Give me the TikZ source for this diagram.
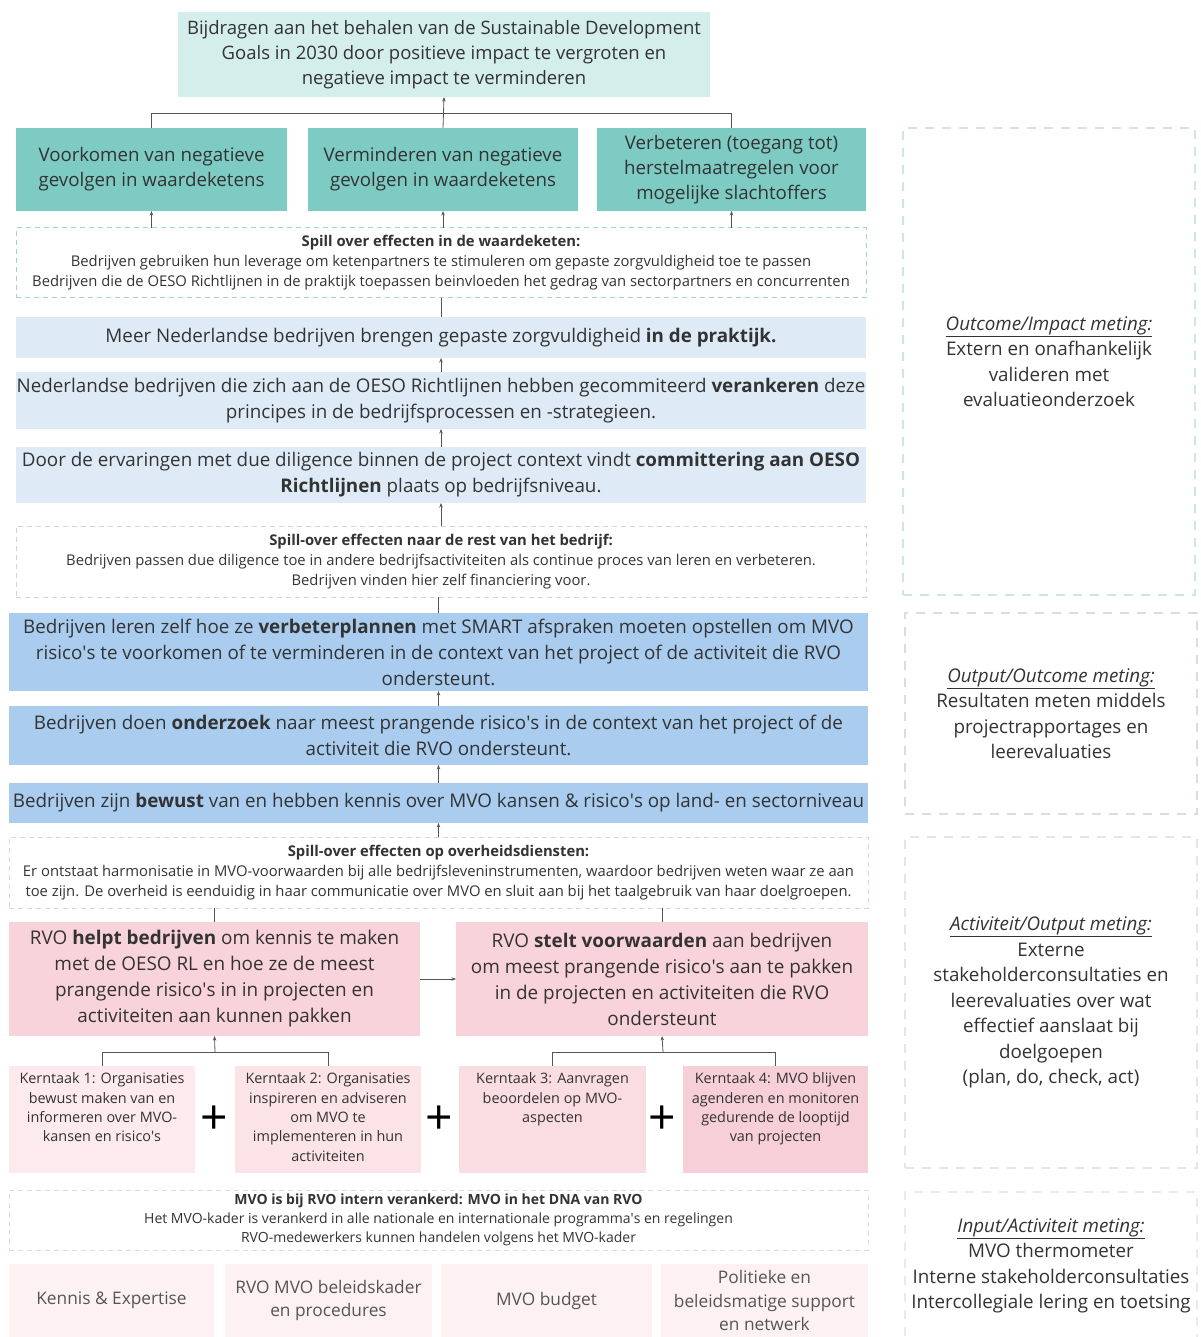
\documentclass[tikz,border=0pt]{standalone}
\usepackage{fontspec}
\setmainfont{Open Sans}
\usetikzlibrary{arrows.meta}
\definecolor{txt}{HTML}{333333}
\definecolor{txtg}{HTML}{555555}
\definecolor{cTop}{HTML}{D4EEEB}
\definecolor{cTeal}{HTML}{7ECBC4}
\definecolor{cLB}{HTML}{DEEBF7}
\definecolor{cMB}{HTML}{A9CCEF}
\definecolor{cPink}{HTML}{F9D3DC}
\definecolor{cKa}{HTML}{FCEAEE}
\definecolor{cKb}{HTML}{FBE3E8}
\definecolor{cKc}{HTML}{FADCE3}
\definecolor{cKd}{HTML}{F7CFD9}
\definecolor{cBase}{HTML}{FDF1F3}
\definecolor{dT}{HTML}{9ED3CF}
\definecolor{dB}{HTML}{C8D6E4}
\definecolor{dP}{HTML}{EBCFD5}
\definecolor{dQ}{HTML}{E6D6DA}
\definecolor{rA}{HTML}{CDE5E3}
\definecolor{rB}{HTML}{D8DDE0}
\definecolor{rC}{HTML}{E3E6E6}
\definecolor{rD}{HTML}{E9EAEA}
\definecolor{lnc}{HTML}{555555}
\newcommand\fsz[2]{\fontsize{#1}{#2}\selectfont}
\newcommand\aq{\textquotesingle}
\newcommand\bx[7]{\node[#6, minimum width={(#4-#2)*1pt}, minimum height={(#5-#3)*1pt}] (#1) at ({(#2+#4)/2},{(#3+#5)/2}) {#7};}
\tikzset{
  box/.style={inner sep=0pt, outer sep=0pt, align=center, text=txt},
  topbox/.style={box, fill=cTop, font=\fsz{18.5}{25}},
  tealbox/.style={box, fill=cTeal, font=\fsz{18.7}{25}},
  lbbox/.style={box, fill=cLB, font=\fsz{18.8}{26}},
  mbbox/.style={box, fill=cMB, font=\fsz{18.8}{26}},
  pinkbox/.style={box, fill=cPink, font=\fsz{18.9}{26}},
  ktbox/.style={box},
  kttext/.style={inner sep=0pt, align=center, text=txt, font=\fsz{14.4}{19.4}, anchor=north},
  basebox/.style={box, fill=cBase, text=txtg, font=\fsz{17.3}{23.5}},
  dashbox/.style={box, line width=1pt, dash pattern=on 5pt off 4pt},
  sidebox/.style={box, line width=1.6pt, dash pattern=on 9pt off 8pt, font=\fsz{18.8}{25.5}},
  conn/.style={draw=lnc, line width=0.8pt},
  arr/.style={conn, -{Stealth[length=4.5pt,width=3.5pt]}},
  plus/.style={inner sep=0pt, text=black, font=\fsz{48}{48}}
}
\begin{document}
\begin{tikzpicture}[x=1pt,y=-1pt]
\useasboundingbox[fill=white] (0,0) rectangle (1200,1337);
% top
\bx{top}{178}{12}{710}{97}{topbox}{Bijdragen aan het behalen van de Sustainable Development\\Goals in 2030 door positieve impact te vergroten en\\negatieve impact te verminderen}
\bx{t1}{16}{128}{287}{211}{tealbox}{Voorkomen van negatieve\\gevolgen in waardeketens}
\bx{t2}{308}{128}{578}{211}{tealbox}{Verminderen van negatieve\\gevolgen in waardeketens}
\bx{t3}{597}{128}{866}{211}{tealbox}{Verbeteren (toegang tot)\\herstelmaatregelen voor\\mogelijke slachtoffers}
\bx{d1}{16}{228}{866}{298}{dashbox, draw=dT, font=\fsz{14.8}{20}}{\textbf{Spill over effecten in de waardeketen:}\\Bedrijven gebruiken hun leverage om ketenpartners te stimuleren om gepaste zorgvuldigheid toe te passen\\Bedrijven die de OESO Richtlijnen in de praktijk toepassen beinvloeden het gedrag van sectorpartners en concurrenten}
\bx{b1}{16}{317}{866}{358}{lbbox}{Meer Nederlandse bedrijven brengen gepaste zorgvuldigheid \textbf{in de praktijk.}}
\bx{b2}{16}{372}{866}{429}{lbbox}{Nederlandse bedrijven die zich aan de OESO Richtlijnen hebben gecommiteerd \textbf{verankeren} deze\\principes in de bedrijfsprocessen en -strategieen.}
\bx{b3}{16}{447}{866}{503}{lbbox}{Door de ervaringen met due diligence binnen de project context vindt \textbf{committering aan OESO}\\\textbf{Richtlijnen} plaats op bedrijfsniveau.}
\bx{d2}{16}{526}{866}{597}{dashbox, draw=dB, font=\fsz{14.8}{20}}{\textbf{Spill-over effecten naar de rest van het bedrijf:}\\Bedrijven passen due diligence toe in andere bedrijfsactiviteiten als continue proces van leren en verbeteren.\\Bedrijven vinden hier zelf financiering voor.}
\bx{c1}{9}{613}{868}{691}{mbbox}{Bedrijven leren zelf hoe ze \textbf{verbeterplannen} met SMART afspraken moeten opstellen om MVO\\risico\aq s te voorkomen of te verminderen in de context van het project of de activiteit die RVO\\ondersteunt.}
\bx{c2}{9}{706}{868}{765}{mbbox}{Bedrijven doen \textbf{onderzoek} naar meest prangende risico\aq s in de context van het project of de\\activiteit die RVO ondersteunt.}
\bx{c3}{9}{783}{868}{823}{mbbox}{Bedrijven zijn \textbf{bewust} van en hebben kennis over MVO kansen \& risico\aq s op land- en sectorniveau}
\bx{d3}{9}{837}{868}{908}{dashbox, draw=dP, font=\fsz{14.8}{20}}{\textbf{Spill-over effecten op overheidsdiensten:}\\Er ontstaat harmonisatie in MVO-voorwaarden bij alle bedrijfsleveninstrumenten, waardoor bedrijven weten waar ze aan\\toe zijn. De overheid is eenduidig in haar communicatie over MVO en sluit aan bij het taalgebruik van haar doelgroepen.}
\bx{p1}{9}{922}{420}{1036}{pinkbox}{RVO \textbf{helpt bedrijven} om kennis te maken\\met de OESO RL en hoe ze de meest\\prangende risico\aq s in in projecten en\\activiteiten aan kunnen pakken}
\bx{p2}{456}{922}{868}{1036}{pinkbox}{RVO \textbf{stelt voorwaarden} aan bedrijven\\om meest prangende risico\aq s aan te pakken\\in de projecten en activiteiten die RVO\\ondersteunt}
\bx{k1}{9}{1066}{195}{1173}{ktbox, fill=cKa}{}
\bx{k2}{235}{1066}{421}{1173}{ktbox, fill=cKb}{}
\bx{k3}{459}{1066}{646}{1173}{ktbox, fill=cKc}{}
\bx{k4}{683}{1066}{868}{1173}{ktbox, fill=cKd}{}
\node[kttext] (k1t) at (102,1072.5) {Kerntaak 1: Organisaties\\bewust maken van en\\informeren over MVO-\\kansen en risico\aq s};
\node[kttext] (k2t) at (328,1072.5) {Kerntaak 2: Organisaties\\inspireren en adviseren\\om MVO te\\implementeren in hun\\activiteiten};
\node[kttext] (k3t) at (552.5,1072.5) {Kerntaak 3: Aanvragen\\beoordelen op MVO-\\aspecten};
\node[kttext] (k4t) at (775.5,1072.5) {Kerntaak 4: MVO blijven\\agenderen en monitoren\\gedurende de looptijd\\van projecten};
\node[plus] (pl1) at (214,1120) {+};
\node[plus] (pl2) at (439,1120) {+};
\node[plus] (pl3) at (662,1120) {+};
\bx{d4}{9}{1190}{868}{1250}{dashbox, draw=dQ, font=\fsz{14}{19}}{\textbf{MVO is bij RVO intern verankerd: MVO in het DNA van RVO}\\Het MVO-kader is verankerd in alle nationale en internationale programma\aq s en regelingen\\RVO-medewerkers kunnen handelen volgens het MVO-kader}
\bx{e1}{9}{1264}{214}{1337}{basebox}{Kennis \& Expertise}
\bx{e2}{225}{1264}{432}{1337}{basebox}{RVO MVO beleidskader\\en procedures}
\bx{e3}{441}{1264}{652}{1337}{basebox}{MVO budget}
\bx{e4}{661}{1264}{868}{1337}{basebox}{Politieke en\\beleidsmatige support\\en netwerk}
% side boxes
\bx{r1}{903}{128}{1195}{595}{sidebox, draw=rA}{\underline{\textit{Outcome/Impact meting:}}\\Extern en onafhankelijk\\valideren met\\evaluatieonderzoek}
\bx{r2}{905}{613}{1197}{814}{sidebox, draw=rB}{\underline{\textit{Output/Outcome meting:}}\\Resultaten meten middels\\projectrapportages en\\leerevaluaties}
\bx{r3}{905}{837}{1197}{1168}{sidebox, draw=rC}{\underline{\textit{Activiteit/Output meting:}}\\Externe\\stakeholderconsultaties en\\leerevaluaties over wat\\effectief aanslaat bij\\doelgoepen\\(plan, do, check, act)}
\bx{r4}{905}{1192}{1197}{1340}{sidebox, draw=rD}{\underline{\textit{Input/Activiteit meting:}}\\MVO thermometer\\Interne stakeholderconsultaties\\Intercollegiale lering en toetsing}
% connectors
\coordinate (j1) at (443,113);
\draw[conn] (t1.north) -- (t1.north |- j1) -- (t3.north |- j1) -- (t3.north);
\draw[arr] (t2.north) -- (top.south);
\draw[arr] (t1.south |- d1.north) -- (t1.south);
\draw[arr] (t2.south |- d1.north) -- (t2.south);
\draw[arr] (t3.south |- d1.north) -- (t3.south);
\draw[conn] (b1.north) -- (d1.south);
\draw[arr] (b2.north) -- (b1.south);
\draw[arr] (b3.north) -- (b2.south);
\draw[arr] (d2.north) -- (b3.south);
\draw[conn] (c1.north) -- (c1.north |- d2.south);
\draw[arr] (c2.north) -- (c1.south);
\draw[arr] (c3.north) -- (c2.south);
\draw[arr] (d3.north) -- (c3.south);
\draw[conn] (p1.north) -- (p1.north |- d3.south);
\draw[conn] (p2.north) -- (p2.north |- d3.south);
\draw[arr] (p1.east) -- (p2.west);
\coordinate (jl) at (215,1052);
\coordinate (jr) at (663,1052);
\draw[conn] (k1.north) -- (k1.north |- jl) -- (k2.north |- jl) -- (k2.north);
\draw[arr] (jl) -- (p1.south);
\draw[conn] (k3.north) -- (k3.north |- jr) -- (k4.north |- jr) -- (k4.north);
\draw[arr] (jr) -- (p2.south);
\end{tikzpicture}
\end{document}
